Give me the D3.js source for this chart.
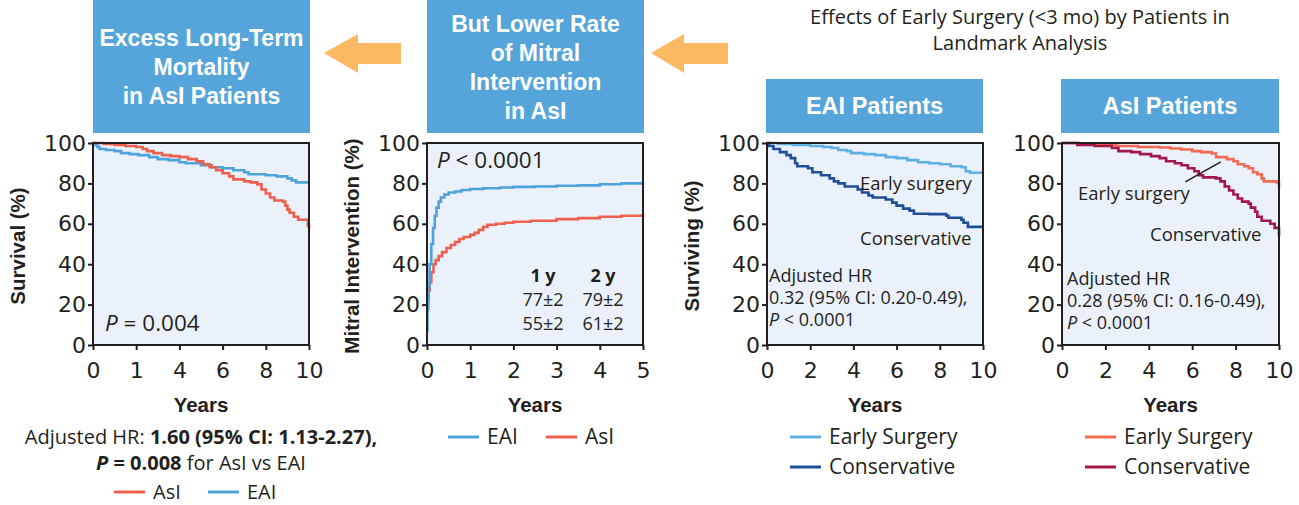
<!DOCTYPE html>
<html>
<head>
<meta charset="utf-8">
<script src="https://cdn.jsdelivr.net/npm/d3@7"></script>
<style>
body { margin: 0; background: #fff; }
svg text { fill: #231f20; font-family: "Open Sans", sans-serif; }
.tick text { font-family: "DejaVu Sans", sans-serif; font-size: 22px; fill: #231f20; }
.tick line { stroke: #231f20; stroke-width: 2; }
.head { font-family: "Liberation Sans Narrow", sans-serif; font-weight: bold; font-size: 23px; }
.axtitle { font-family: "Liberation Sans Narrow", sans-serif; font-weight: bold; font-size: 20.5px; }
</style>
</head>
<body>
<svg width="1299" height="505"></svg>
<script>
// ---- data ----
var yTicks = [0, 20, 40, 60, 80, 100];
var survYearTicks = [0, 2, 4, 6, 8, 10];
var survYearLabels = ["0", "1", "4", "6", "8", "10"];   // as printed in the original
var tenYearTicks = [0, 2, 4, 6, 8, 10];
var mitralYearTicks = [0, 1, 2, 3, 4, 5];

// panel 1: survival, all patients
var survEAI = [[0,100],[0.1,99],[0.2,98],[0.3,97],[0.6,96.5],[1,96],[1.3,95],[1.7,94.5],[2.1,94],[2.6,93],
  [3,92],[3.5,91.5],[4,90.5],[4.3,90],[5,89],[5.5,88],[6,87.5],[6.5,86.5],[7,85.5],[7.2,84.5],[8,84],
  [8.5,83.5],[9,82.5],[9.2,81.5],[9.4,80.5],[10,80.5]];
var survAsI = [[0,100],[0.5,99.5],[1,99],[1.5,98.5],[2,98],[2.3,97],[2.5,96],[2.8,95],[3.2,94],[3.6,93.5],
  [4,93],[4.4,92],[4.8,91],[5.1,89.5],[5.4,88],[5.7,86.5],[6,85],[6.3,83.5],[6.5,82],[7,81],[7.3,80.5],
  [7.6,79.5],[7.8,77],[8,75],[8.2,73],[8.4,71.5],[8.8,71],[8.9,69],[9,67],[9.1,65.5],[9.3,63.5],[9.5,62],
  [9.9,62],[9.95,59],[10,57.5]];

// panel 2: mitral intervention
var mitralEAI = [[0,7],[0.01,18],[0.03,29],[0.06,40],[0.1,50],[0.14,58],[0.18,64],[0.22,68],[0.27,71],
  [0.32,73],[0.4,74.5],[0.5,75.5],[0.65,76],[0.8,76.7],[1,77.2],[1.3,77.6],[1.7,78],[2,78.3],[2.5,78.5],
  [3,78.8],[3.5,79],[4,79.6],[4.5,80],[5,80.5]];
var mitralAsI = [[0,17],[0.02,22],[0.04,27],[0.06,31],[0.1,36],[0.15,40],[0.2,42],[0.27,44],[0.35,46],
  [0.45,48],[0.55,49.5],[0.65,51],[0.75,52.5],[0.85,53.5],[1,54.5],[1.1,55.5],[1.2,57],[1.3,58.5],
  [1.4,59.5],[1.6,60],[1.8,60.5],[2,61],[2.4,61.5],[3,62.3],[3.5,62.8],[4,63.5],[4.5,64],[5,64.8]];
var tableCols = ["1 y", "2 y"];
var tableEAI = ["77\u00b12", "79\u00b12"];
var tableAsI = ["55\u00b12", "61\u00b12"];

// panel 3: EAI patients, landmark
var eaiEarly = [[0,100],[0.5,99.5],[1.2,99],[2,98.5],[2.6,98],[3,97.5],[3.3,96.5],[3.7,96],[3.9,95],
  [4.5,94.5],[5,94],[5.5,93],[6,92.5],[6.5,91.5],[7,90.5],[7.5,90],[8,89.5],[8.5,88.5],[9,88],[9.2,86],
  [9.4,85.3],[10,85.3]];
var eaiCons = [[0,100],[0.1,98.5],[0.3,97],[0.6,95.5],[0.9,94],[1.1,92.5],[1.3,90],[1.4,88.5],[1.9,87.5],
  [2.1,85.5],[2.5,84],[2.9,82.5],[3.1,81],[3.3,80],[3.6,78.5],[4.2,77],[4.4,75.5],[4.7,74],[4.9,73],
  [5.5,72],[5.8,70.5],[6,69],[6.3,67.5],[6.6,66.5],[6.8,65],[7.5,64.8],[8.3,64],[8.4,63],[9,62],
  [9.1,60.5],[9.3,58.5],[10,58.5]];

// panel 4: AsI patients, landmark
var asiEarly = [[0,100],[0.8,99.5],[1.8,99],[2.5,98.5],[3.5,98],[4.5,97.8],[5,97.3],[5.5,96.8],[6,96],
  [6.4,95.5],[6.9,94.8],[7.1,93],[7.6,92],[7.9,91],[8.1,89.5],[8.4,88.5],[8.6,87.5],[8.8,85.5],[9,84.5],
  [9.2,82.5],[9.3,81],[9.9,80.5],[10,77.5]];
var asiCons = [[0,100],[0.7,99],[1.5,98.5],[2.3,97.5],[2.6,96],[3.2,95.5],[3.6,94.5],[4.1,93.5],[4.5,92.5],
  [4.8,91],[5.2,90],[5.5,89],[5.8,87.5],[6.1,86],[6.3,84],[6.5,83],[7.1,82.5],[7.3,81],[7.5,78.5],
  [7.7,76.5],[7.9,74.5],[8.1,72.5],[8.3,71],[8.6,70],[8.7,68],[8.9,66],[9,63.5],[9.2,61.5],[9.6,60],
  [9.8,58],[10,54]];
var asiPointer = [[5.68,80.8],[7.32,90.7]];

// ---- colours ----
var cEAI = "#4ea3dc", cAsI = "#ef5f4d";
var cEaiEarly = "#5fb1e4", cEaiCons = "#1f4f96";
var cAsiEarly = "#f26a4f", cAsiCons = "#a5164b";
var cBox = "#55a5da", cArrow = "#fdb863", cPlot = "#eaf1fa", cInk = "#231f20";

var svg = d3.select("svg");
var plotTop = 143, plotBottom = 345;

function drawPanel(o) {
  var x = d3.scaleLinear().domain([0, o.xMax]).range([o.left, o.right]);
  var y = d3.scaleLinear().domain([0, 100]).range([plotBottom, plotTop]);
  var g = svg.append("g");
  g.append("rect")
    .attr("x", o.left).attr("y", plotTop)
    .attr("width", o.right - o.left).attr("height", plotBottom - plotTop)
    .attr("fill", cPlot);
  var line = d3.line().curve(d3.curveStepAfter)
    .x(function(d) { return x(d[0]); })
    .y(function(d) { return y(d[1]); });
  o.series.forEach(function(s) {
    g.append("path").datum(s.data)
      .attr("d", line)
      .attr("fill", "none")
      .attr("stroke", s.color)
      .attr("stroke-width", 2.6);
  });
  var xa = d3.axisBottom(x).tickValues(o.xTicks).tickSize(5).tickPadding(12);
  if (o.xLabels) xa.tickFormat(function(d, i) { return o.xLabels[i]; });
  else xa.tickFormat(d3.format("d"));
  g.append("g").attr("transform", "translate(0," + plotBottom + ")").call(xa)
    .call(function(a) { a.select(".domain").remove(); });
  g.append("g").attr("transform", "translate(" + o.left + ",0)")
    .call(d3.axisLeft(y).tickValues(yTicks).tickSize(5).tickPadding(2))
    .call(function(a) { a.select(".domain").remove(); });
  g.append("rect")
    .attr("x", o.left).attr("y", plotTop)
    .attr("width", o.right - o.left).attr("height", plotBottom - plotTop)
    .attr("fill", "none").attr("stroke", cInk).attr("stroke-width", 2);
  g.append("text").attr("class", "axtitle")
    .attr("x", (o.left + o.right) / 2).attr("y", 412)
    .attr("text-anchor", "middle").text("Years");
  if (o.yTitle) {
    g.append("text").attr("class", "axtitle")
      .attr("transform", "translate(" + (o.left - 68) + ",246) rotate(-90)")
      .attr("text-anchor", "middle").text(o.yTitle);
  }
  return { x: x, y: y, g: g };
}

function headBox(x0, x1, y0, y1, lines, baselines, size) {
  svg.append("rect").attr("x", x0).attr("y", y0)
    .attr("width", x1 - x0).attr("height", y1 - y0).attr("fill", cBox);
  lines.forEach(function(t, i) {
    svg.append("text").attr("class", "head")
      .attr("x", (x0 + x1) / 2).attr("y", baselines[i])
      .attr("text-anchor", "middle").style("fill", "#fff")
      .style("font-size", size ? size + "px" : null).text(t);
  });
}

function leftArrow(tip, headBase, tail, cy) {
  var p = d3.path();
  p.moveTo(tip, cy);
  p.lineTo(headBase, cy - 19);
  p.lineTo(headBase, cy - 10);
  p.lineTo(tail, cy - 10);
  p.lineTo(tail, cy + 11);
  p.lineTo(headBase, cy + 11);
  p.lineTo(headBase, cy + 20);
  p.closePath();
  svg.append("path").attr("d", p.toString()).attr("fill", cArrow);
}

function legendRow(x, y, color, label, size) {
  svg.append("line").attr("x1", x).attr("x2", x + 31).attr("y1", y).attr("y2", y)
    .attr("stroke", color).attr("stroke-width", 3);
  svg.append("text").attr("x", x + 39).attr("y", y + 7)
    .style("font-size", (size || 21) + "px").text(label);
}

// ---- headers ----
headBox(93, 310, 0, 133, ["Excess Long-Term", "Mortality", "in AsI Patients"], [46, 75, 104]);
headBox(427, 644, 0, 133, ["But Lower Rate", "of Mitral", "Intervention", "in AsI"], [32, 61, 90, 119]);
headBox(766, 983, 79, 133, ["EAI Patients"], [114], 23.5);
headBox(1061, 1279, 79, 133, ["AsI Patients"], [114], 23.5);
leftArrow(324, 358, 401, 53);
leftArrow(651, 684, 728, 53);
svg.append("text").attr("x", 1020).attr("y", 24).attr("text-anchor", "middle")
  .style("font-size", "20px").text("Effects of Early Surgery (<3 mo) by Patients in");
svg.append("text").attr("x", 1020).attr("y", 50).attr("text-anchor", "middle")
  .style("font-size", "20px").text("Landmark Analysis");

// ---- panel 1 ----
var p1 = drawPanel({ left: 93, right: 309, xMax: 10, xTicks: survYearTicks, xLabels: survYearLabels,
  yTitle: "Survival (%)", series: [{ data: survEAI, color: cEAI }, { data: survAsI, color: cAsI }] });
p1.g.append("text").attr("x", 105).attr("y", 331).style("font-size", "22.5px")
  .html('<tspan font-style="italic">P</tspan> = 0.004');

// ---- panel 2 ----
var p2 = drawPanel({ left: 427, right: 643, xMax: 5, xTicks: mitralYearTicks,
  yTitle: "Mitral Intervention (%)", series: [{ data: mitralAsI, color: cAsI }, { data: mitralEAI, color: cEAI }] });
p2.g.append("text").attr("x", 437).attr("y", 168).style("font-size", "22.5px")
  .html('<tspan font-style="italic">P</tspan> &lt; 0.0001');
var colX = [543, 603];
tableCols.forEach(function(c, i) {
  p2.g.append("text").attr("x", colX[i]).attr("y", 282).attr("text-anchor", "middle")
    .style("font-size", "18px").style("font-weight", "bold").text(c);
  p2.g.append("text").attr("x", colX[i]).attr("y", 306).attr("text-anchor", "middle")
    .style("font-size", "18px").text(tableEAI[i]);
  p2.g.append("text").attr("x", colX[i]).attr("y", 330).attr("text-anchor", "middle")
    .style("font-size", "18px").text(tableAsI[i]);
});

// ---- panel 3 ----
var p3 = drawPanel({ left: 767, right: 983, xMax: 10, xTicks: tenYearTicks,
  yTitle: "Surviving (%)", series: [{ data: eaiEarly, color: cEaiEarly }, { data: eaiCons, color: cEaiCons }] });
p3.g.append("text").attr("x", 860).attr("y", 190).style("font-size", "18.5px").text("Early surgery");
p3.g.append("text").attr("x", 860).attr("y", 245).style("font-size", "18.5px").text("Conservative");
var hr3 = ["Adjusted HR", "0.32 (95% CI: 0.20-0.49),", '<tspan font-style="italic">P</tspan> &lt; 0.0001'];
hr3.forEach(function(t, i) {
  p3.g.append("text").attr("x", 769).attr("y", 282 + i * 22).style("font-size", "18px").html(t);
});

// ---- panel 4 ----
var p4 = drawPanel({ left: 1062, right: 1279, xMax: 10, xTicks: tenYearTicks,
  series: [{ data: asiEarly, color: cAsiEarly }, { data: asiCons, color: cAsiCons }] });
p4.g.append("line")
  .attr("x1", p4.x(asiPointer[0][0])).attr("y1", p4.y(asiPointer[0][1]))
  .attr("x2", p4.x(asiPointer[1][0])).attr("y2", p4.y(asiPointer[1][1]))
  .attr("stroke", cInk).attr("stroke-width", 1.5);
p4.g.append("text").attr("x", 1078).attr("y", 200).style("font-size", "18.5px").text("Early surgery");
p4.g.append("text").attr("x", 1150).attr("y", 241).style("font-size", "18.5px").text("Conservative");
var hr4 = ["Adjusted HR", "0.28 (95% CI: 0.16-0.49),", '<tspan font-style="italic">P</tspan> &lt; 0.0001'];
hr4.forEach(function(t, i) {
  p4.g.append("text").attr("x", 1067).attr("y", 285 + i * 22).style("font-size", "18px").html(t);
});

// ---- bottom notes and legends ----
svg.append("text").attr("x", 201).attr("y", 444).attr("text-anchor", "middle").style("font-size", "20px")
  .html('Adjusted HR: <tspan font-weight="bold">1.60 (95% CI: 1.13-2.27),</tspan>');
svg.append("text").attr("x", 201).attr("y", 470).attr("text-anchor", "middle").style("font-size", "20px")
  .html('<tspan font-weight="bold"><tspan font-style="italic">P</tspan> = 0.008</tspan> for AsI vs EAI');
legendRow(114, 492, cAsI, "AsI", 20);
legendRow(208, 492, cEAI, "EAI", 20);
legendRow(448, 437, cEAI, "EAI");
legendRow(546, 437, cAsI, "AsI");
legendRow(790, 437, cEaiEarly, "Early Surgery");
legendRow(790, 467, cEaiCons, "Conservative");
legendRow(1085, 437, cAsiEarly, "Early Surgery");
legendRow(1085, 467, cAsiCons, "Conservative");
</script>
</body>
</html>
